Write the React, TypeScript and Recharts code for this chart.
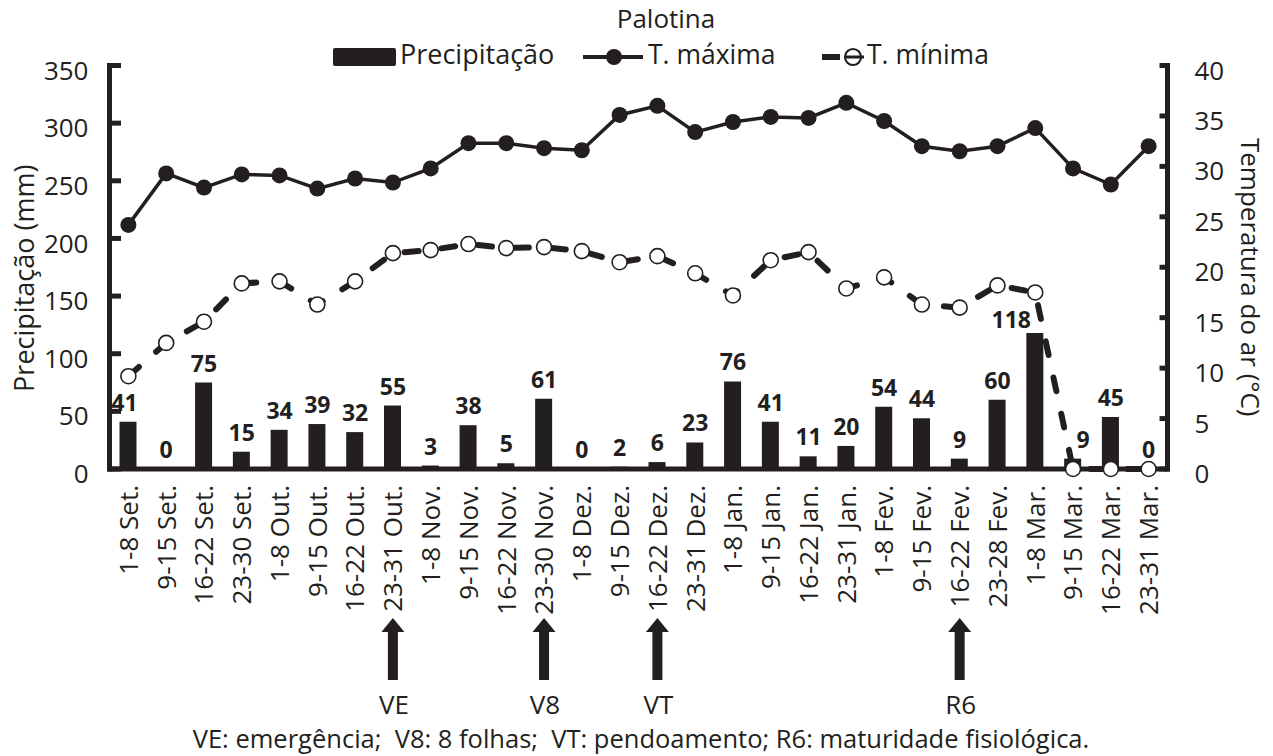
import React from 'react';
import { ComposedChart, Bar, Line, XAxis, YAxis, LabelList, Legend } from 'recharts';

const periods = ['1-8 Set.', '9-15 Set.', '16-22 Set.', '23-30 Set.', '1-8 Out.', '9-15 Out.', '16-22 Out.', '23-31 Out.', '1-8 Nov.', '9-15 Nov.', '16-22 Nov.', '23-30 Nov.', '1-8 Dez.', '9-15 Dez.', '16-22 Dez.', '23-31 Dez.', '1-8 Jan.', '9-15 Jan.', '16-22 Jan.', '23-31 Jan.', '1-8 Fev.', '9-15 Fev.', '16-22 Fev.', '23-28 Fev.', '1-8 Mar.', '9-15 Mar.', '16-22 Mar.', '23-31 Mar.'];
const precipitacao = [41, 0, 75, 15, 34, 39, 32, 55, 3, 38, 5, 61, 0, 2, 6, 23, 76, 41, 11, 20, 54, 44, 9, 60, 118, 9, 45, 0];
const tMaxima = [24.2, 29.3, 27.9, 29.2, 29.1, 27.8, 28.8, 28.4, 29.8, 32.3, 32.3, 31.8, 31.6, 35.1, 36.0, 33.4, 34.4, 34.9, 34.8, 36.3, 34.5, 32.0, 31.5, 32.0, 33.8, 29.8, 28.2, 32.0];
const tMinima = [9.2, 12.5, 14.6, 18.4, 18.6, 16.3, 18.6, 21.4, 21.7, 22.3, 21.9, 22.0, 21.6, 20.5, 21.1, 19.4, 17.2, 20.7, 21.5, 17.9, 19.0, 16.3, 16.0, 18.2, 17.5, 0, 0, 0];
const precipTicks = [0, 50, 100, 150, 200, 250, 300, 350];
const tempTicks = [0, 5, 10, 15, 20, 25, 30, 35, 40];
const stagePeriods = ['23-31 Out.', '23-30 Nov.', '16-22 Dez.', '16-22 Fev.'];
const stageLabels = ['VE', 'V8', 'VT', 'R6'];

const rows = periods.map((p, i) => ({ period: p, precip: precipitacao[i], tmax: tMaxima[i], tmin: tMinima[i] }));

const INK = '#231f20';
const FONT = "'Open Sans', sans-serif";

// small horizontal nudges of some value labels (as in the reference, to avoid the lines)
const labelNudge: Record<string, number> = { '1-8 Set.': -4, '1-8 Mar.': -24, '9-15 Mar.': 10 };
const labelLift: Record<string, number> = { '1-8 Mar.': -6 };

const LeftTick = (props: any) => {
  const { x, y, payload } = props;
  return (
    <g>
      <line x1={x} x2={x + 11.5} y1={y} y2={y} stroke={INK} strokeWidth={5} />
      <text x={x - 21} y={y + 5} dy="0.35em" textAnchor="end" fontSize={26} fontFamily={FONT} fill={INK}>{payload.value}</text>
    </g>
  );
};

const RightTick = (props: any) => {
  const { x, y, payload } = props;
  return (
    <g>
      <line x1={x} x2={x - 8} y1={y} y2={y} stroke={INK} strokeWidth={5} />
      <text x={x + 27} y={y + 5} dy="0.35em" textAnchor="start" fontSize={26} fontFamily={FONT} fill={INK}>{payload.value}</text>
    </g>
  );
};

const PeriodTick = (props: any) => {
  const { x, y, payload } = props;
  const ty = y + 16;
  const si = stagePeriods.indexOf(payload.value);
  return (
    <g>
      <text x={x} y={ty} dy="0.36em" textAnchor="end" transform={`rotate(-90, ${x}, ${ty})`} fontSize={26} fontFamily={FONT} fill={INK}>{payload.value}</text>
      {si >= 0 && (
        <g>
          <path d={`M ${x} ${y + 149} L ${x + 11.5} ${y + 163} L ${x + 5} ${y + 163} L ${x + 5} ${y + 211} L ${x - 5} ${y + 211} L ${x - 5} ${y + 163} L ${x - 11.5} ${y + 163} Z`} fill={INK} />
          <text x={x + 1} y={y + 245} textAnchor="middle" fontSize={26} fontFamily={FONT} fill={INK}>{stageLabels[si]}</text>
        </g>
      )}
    </g>
  );
};

const ValueLabel = (props: any) => {
  const { x, y, value, index } = props;
  const key = typeof index === 'number' ? periods[index] : '';
  const dx = labelNudge[key] || 0;
  const dy = labelLift[key] || 0;
  return (
    <text x={x + dx} y={y - 11 - dy} textAnchor="middle" fontSize={23} fontWeight={700} fontFamily={FONT} fill={INK}>{value}</text>
  );
};

const LeftTitle = (props: any) => {
  const vb = props.viewBox;
  const cx = vb.x + 25;
  const cy = vb.y + vb.height / 2 + 11;
  return (
    <text x={cx} y={cy} dy="0.35em" textAnchor="middle" transform={`rotate(-90, ${cx}, ${cy})`} fontSize={27} fontFamily={FONT} fill={INK}>Precipitação (mm)</text>
  );
};

const RightTitle = (props: any) => {
  const vb = props.viewBox;
  const cx = vb.x + 82.5;
  const cy = vb.y + vb.height / 2 + 10;
  return (
    <text x={cx} y={cy} dy="0.35em" textAnchor="middle" transform={`rotate(90, ${cx}, ${cy})`} fontSize={26} fontFamily={FONT} fill={INK}>Temperatura do ar (°C)</text>
  );
};

const legendSlots = [333, 583, 822];

const LegendContent = (props: any) => {
  const items = (props.payload || []).filter((e: any) => e.type !== 'none');
  return (
    <svg width={1273} height={80} style={{ display: 'block' }}>
      {items.map((e: any, i: number) => {
        const x0 = legendSlots[i] ?? 0;
        if (e.dataKey === 'precip') {
          return (
            <g key={i}>
              <rect x={x0} y={48} width={63} height={18} rx={2} fill={INK} />
              <text x={x0 + 67} y={64} fontSize={27} fontFamily={FONT} fill={INK}>{e.value}</text>
            </g>
          );
        }
        if (e.dataKey === 'tmax') {
          return (
            <g key={i}>
              <line x1={x0} x2={x0 + 60} y1={57} y2={57} stroke={INK} strokeWidth={4} />
              <circle cx={x0 + 31} cy={57} r={8} fill={INK} />
              <text x={x0 + 65} y={64} fontSize={26.5} fontFamily={FONT} fill={INK}>{e.value}</text>
            </g>
          );
        }
        return (
          <g key={i}>
            <line x1={x0} x2={x0 + 18} y1={57} y2={57} stroke={INK} strokeWidth={6} />
            <circle cx={x0 + 31} cy={57} r={8} fill="#fff" stroke={INK} strokeWidth={2.2} />
            <line x1={x0 + 24} x2={x0 + 42} y1={57} y2={57} stroke={INK} strokeWidth={3} />
            <text x={x0 + 45} y={64} fontSize={26.5} fontFamily={FONT} fill={INK}>{e.value}</text>
          </g>
        );
      })}
    </svg>
  );
};

export default function App() {
  return (
    <div style={{ position: 'absolute', left: 0, top: 0, width: 1273, height: 756, background: '#fff', fontFamily: FONT }}>
      <ComposedChart width={1273} height={756} data={rows} margin={{ top: 65.5, right: 0, bottom: 0, left: 0 }} barCategoryGap="0%">
        <XAxis dataKey="period" height={287} interval={0} tickLine={false} tickSize={0} tickMargin={0}
          axisLine={{ stroke: INK, strokeWidth: 5, strokeLinecap: 'square' }} tick={PeriodTick} />
        <YAxis yAxisId="p" orientation="left" width={109.5} domain={[0, 350]} ticks={precipTicks} interval={0}
          tickLine={false} tickSize={0} tickMargin={0} axisLine={{ stroke: INK, strokeWidth: 5, strokeLinecap: 'square' }}
          tick={LeftTick} label={{ content: LeftTitle }} />
        <YAxis yAxisId="t" orientation="right" width={105.5} domain={[0, 40]} ticks={tempTicks} interval={0}
          tickLine={false} tickSize={0} tickMargin={0} axisLine={{ stroke: INK, strokeWidth: 5, strokeLinecap: 'square' }}
          tick={RightTick} label={{ content: RightTitle }} />
        <Legend verticalAlign="middle" layout="horizontal" wrapperStyle={{ top: 0, left: 0, width: 1273, height: 80 }} content={LegendContent} />
        <Bar yAxisId="p" dataKey="precip" name="Precipitação" fill={INK} barSize={17} isAnimationActive={false} />
        <Line yAxisId="p" dataKey="precip" name="rótulos" legendType="none" type="linear" stroke="none"
          dot={false} activeDot={false} isAnimationActive={false}>
          <LabelList dataKey="precip" content={ValueLabel} />
        </Line>
        <Line yAxisId="t" dataKey="tmax" name="T. máxima" type="linear" stroke={INK} strokeWidth={3.5}
          dot={{ r: 8, fill: INK, stroke: INK, strokeWidth: 0 }} activeDot={false} isAnimationActive={false} />
        <Line yAxisId="t" dataKey="tmin" name="T. mínima" type="linear" stroke="none"
          dot={{ r: 7.5, fill: '#fff', stroke: INK, strokeWidth: 1.6 }} activeDot={false} isAnimationActive={false} />
        <Line yAxisId="t" dataKey="tmin" name="T. mínima (traço)" legendType="none" type="linear" stroke={INK} strokeWidth={6}
          strokeDasharray="14 23" strokeLinecap="round" dot={false} activeDot={false} isAnimationActive={false} />
      </ComposedChart>
      <div style={{ position: 'absolute', left: 566, width: 200, top: 5, textAlign: 'center', fontSize: 26, lineHeight: '26px', color: INK }}>Palotina</div>
      <div style={{ position: 'absolute', left: 0, width: 1282, top: 726, textAlign: 'center', fontSize: 25.5, lineHeight: '25.5px', color: INK, whiteSpace: 'pre' }}>{'VE: emergência;  V8: 8 folhas;  VT: pendoamento; R6: maturidade fisiológica.'}</div>
    </div>
  );
}
